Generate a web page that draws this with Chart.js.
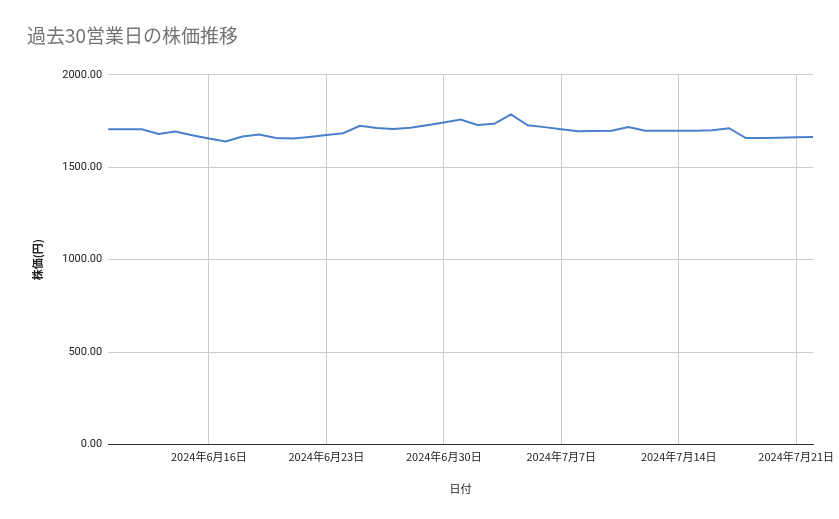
<!DOCTYPE html>
<html><head><meta charset="utf-8">
<script src="https://cdn.jsdelivr.net/npm/chart.js@4"></script>
<style>body{margin:0;background:#fff}#w{width:839px;height:519px;position:relative}</style>
</head><body><div id="w"><canvas id="c"></canvas></div>
<script>
const dates=[];
for(let d=new Date(2024,5,10);d<=new Date(2024,6,22);d.setDate(d.getDate()+1)){dates.push(`2024年${d.getMonth()+1}月${d.getDate()}日`);}
const prices=[1705,1705,1705,1680,1693,1673,1655,1639,1666,1677,1658,1655,1664,1675,1684,1724,1712,1707,1714,1727,1742,1758,1729,1735,1786,1727,1717,1705,1695,1696,1697,1718,1698,1698,1698,1698,1700,1711,1658,1658,1660,1662,1664];
const yTicks=[0,500,1000,1500,2000];
const isSunday=i=>i%7===6;
new Chart(document.getElementById('c'),{
type:'line',
data:{labels:dates,datasets:[{data:prices,borderColor:'#4a7fcb',borderWidth:2,pointRadius:0,tension:0}]},
options:{responsive:true,maintainAspectRatio:false,animation:false,
layout:{padding:{left:27,right:26,top:10,bottom:20}},
plugins:{legend:{display:false},
title:{display:true,text:'過去30営業日の株価推移',align:'start',color:'#757575',font:{family:'Noto Sans CJK JP',size:19,weight:'normal'},padding:{top:14,bottom:28}}},
scales:{
x:{offset:false,grid:{color:c=>isSunday(c.index)?'#cccccc':'transparent',drawTicks:false},border:{color:'#333'},
ticks:{autoSkip:false,maxRotation:0,padding:6,color:'#222',font:{family:'Noto Sans CJK JP',size:11},callback:(v,i)=>isSunday(i)?dates[i]:''},
title:{display:true,text:'日付',color:'#222',font:{family:'Noto Sans CJK JP',size:11},padding:{top:12}}},
y:{min:0,max:2000,afterBuildTicks:s=>{s.ticks=yTicks.map(v=>({value:v}))},
grid:{color:'#cccccc',drawTicks:false},border:{display:false},
ticks:{padding:6,color:'#222',font:{family:'Roboto',size:11},callback:v=>v.toFixed(2)},
title:{display:true,text:'株価(円)',color:'#222',font:{family:'Noto Sans CJK JP',size:11,weight:'bold'},padding:{bottom:12}}}
}}});
</script></body></html>
